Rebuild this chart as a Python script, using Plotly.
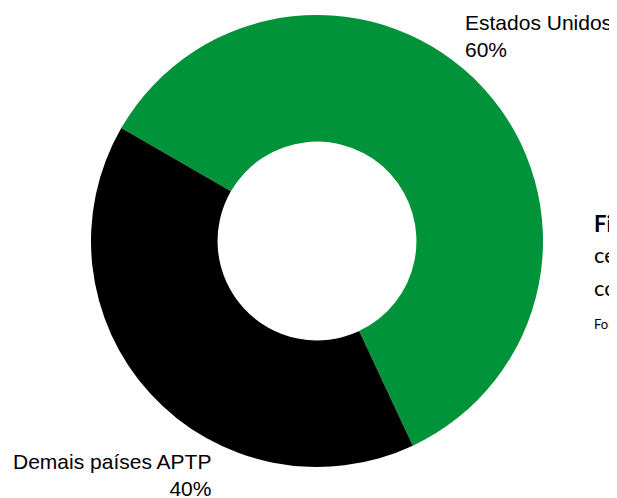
import plotly.graph_objects as go

labels = ["Estados Unidos", "Demais países APTP"]
values = [59.7, 40.3]
colors = ["#009339", "#000000"]

caption_lines = ["Figura", "certificados", "concedidos", "Formulação própria"]

W, H = 617, 498
OFF = 8  # page body margin
cx, cy, r = 317 - OFF, 241 - OFF, 226


def px(x):
    return (x - OFF) / W


def py(y):
    return (H - (y - OFF)) / H


fig = go.Figure(go.Pie(
    labels=labels,
    values=values,
    hole=0.44,
    sort=False,
    direction="clockwise",
    rotation=-60,
    marker=dict(colors=colors, line=dict(width=0)),
    textinfo="none",
    hoverinfo="label+percent",
    showlegend=False,
    domain=dict(x=[(cx - r) / W, (cx + r) / W], y=[(H - cy - r) / H, (H - cy + r) / H]),
))

total = sum(values)
pct = [f"{round(v / total * 100)}%" for v in values]

lab_font = dict(family="Liberation Sans, Arial", size=21, color="#000")
cap_font = dict(family="Lato, Open Sans", size=22, color="#000")

annotations = [
    dict(text=f"{labels[0]}<br>{pct[0]}", x=px(463), y=py(9), xref="paper", yref="paper",
         xanchor="left", yanchor="top", align="left", showarrow=False, font=lab_font),
    dict(text=f"{labels[1]}<br>{pct[1]}", x=px(213), y=py(502), xref="paper", yref="paper",
         xanchor="right", yanchor="bottom", align="right", showarrow=False, font=lab_font),
    dict(text=f"<b>{caption_lines[0]}</b>", x=px(592), y=py(223), xref="paper", yref="paper",
         xanchor="left", yanchor="middle", showarrow=False, font=cap_font),
    dict(text=caption_lines[1], x=px(592), y=py(254), xref="paper", yref="paper",
         xanchor="left", yanchor="middle", showarrow=False, font=cap_font),
    dict(text=caption_lines[2], x=px(592), y=py(287), xref="paper", yref="paper",
         xanchor="left", yanchor="middle", showarrow=False, font=cap_font),
    dict(text=caption_lines[3], x=px(592), y=py(324), xref="paper", yref="paper",
         xanchor="left", yanchor="middle", showarrow=False,
         font=dict(family="Lato, Open Sans", size=13, color="#000")),
]

fig.update_layout(
    width=W, height=H,
    margin=dict(l=0, r=0, t=0, b=0),
    paper_bgcolor="white",
    plot_bgcolor="white",
    annotations=annotations,
)

fig.write_html("out.html")
